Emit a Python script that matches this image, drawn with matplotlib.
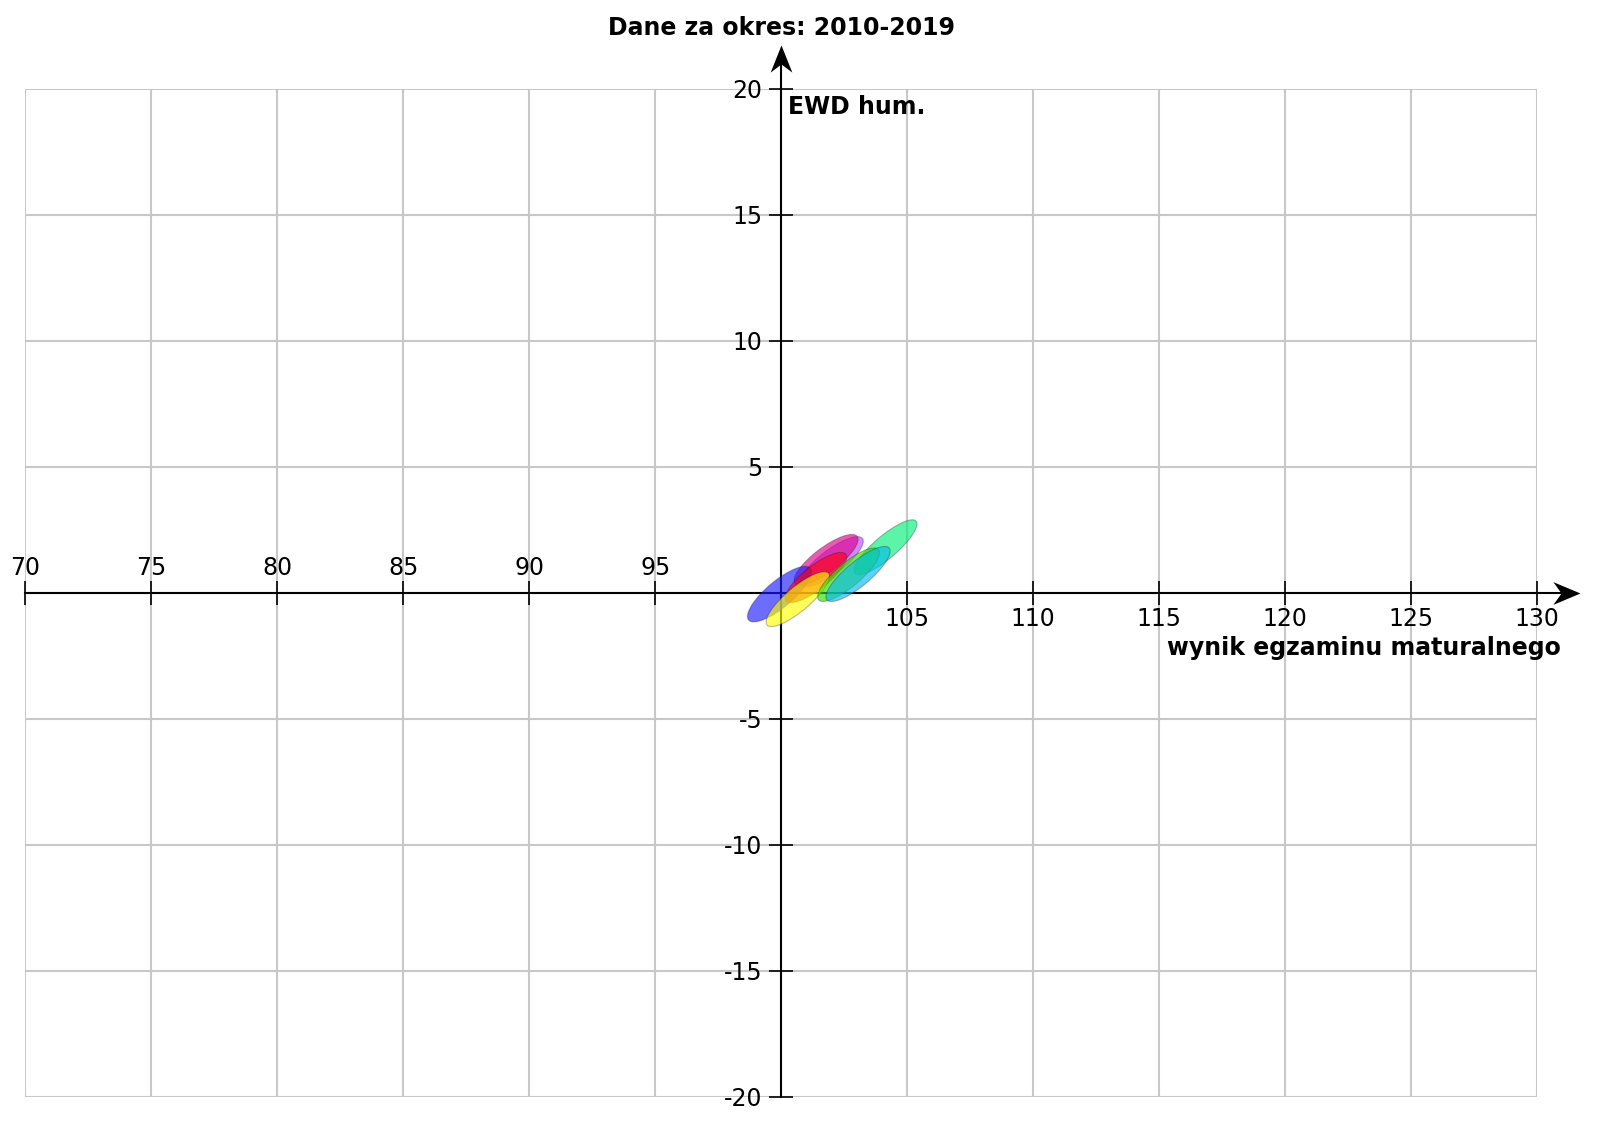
import matplotlib
matplotlib.use('Agg')
import matplotlib.pyplot as plt
from matplotlib.patches import Ellipse
from matplotlib.path import Path
from matplotlib.colors import to_rgba

# okna 3-letnie, środek elipsy (wynik matury, EWD), osie elipsy, kąt
cx = [102.01, 101.78, 99.93, 101.38, 100.66, 104.14, 102.67, 103.05]
cy = [1.24, 1.31, -0.05, 0.61, -0.25, 1.81, 0.72, 0.75]
major = [3.05, 3.1, 3.2, 3.0, 3.19, 3.2, 3.1, 3.22]
minor = [0.95, 0.98, 1.05, 0.95, 0.95, 0.9, 0.95, 0.97]
angle = [37, 37, 40, 38, 40, 40.4, 40, 39.7]
colors = ['#bb44ff', '#dd0088', '#1a1aff', '#ff0010', '#ffff00',
          '#00ee77', '#33dd00', '#00bbee']

xticks = [70, 75, 80, 85, 90, 95, 100, 105, 110, 115, 120, 125, 130]
yticks = [-20, -15, -10, -5, 0, 5, 10, 15, 20]

fig = plt.figure(figsize=(16, 11.23), dpi=100)
ax = fig.add_axes([0.0159, 0.0232, 0.9447, 0.8977])
ax.set_xlim(70, 130)
ax.set_ylim(-20, 20)

ax.set_xticks(xticks)
ax.set_yticks(yticks)
ax.set_yticklabels(['' if v == 0 else str(v) for v in yticks])
ax.grid(True, color='#c8c8c8', lw=1.5)
ax.set_axisbelow(True)

for s in ['top', 'right']:
    ax.spines[s].set_visible(False)
ax.spines['left'].set_position(('data', 100))
ax.spines['bottom'].set_position(('data', 0))
ax.spines['left'].set_linewidth(1.5)
ax.spines['bottom'].set_linewidth(1.5)
ax.tick_params(direction='inout', length=17, width=1.2, labelsize=17, pad=5)
ax.tick_params(axis='x', labelbottom=False)

for v in xticks:
    if v < 100:
        ax.annotate(str(v), (v, 0), xytext=(0, 18), textcoords='offset points',
                    ha='center', va='center', fontsize=17)
    elif v > 100:
        ax.annotate(str(v), (v, 0), xytext=(0, -19), textcoords='offset points',
                    ha='center', va='center', fontsize=17)

# strzałki osi (grot wcięty)
ax.plot([130, 131.2], [0, 0], color='black', lw=1.5, clip_on=False)
ax.plot([100, 100], [20, 21.2], color='black', lw=1.5, clip_on=False)
head = Path([(0, 0), (-1, 0.42), (-0.7, 0), (-1, -0.42), (0, 0)],
            [Path.MOVETO, Path.LINETO, Path.LINETO, Path.LINETO, Path.CLOSEPOLY])
ax.plot(131.7, 0, marker=head, markersize=39, color='black', mew=0,
        clip_on=False)
head_up = Path([(0, 0), (0.4, -1), (0, -0.7), (-0.4, -1), (0, 0)],
               [Path.MOVETO, Path.LINETO, Path.LINETO, Path.LINETO, Path.CLOSEPOLY])
ax.plot(100, 21.75, marker=head_up, markersize=39, color='black', mew=0,
        clip_on=False)

for i in range(len(cx)):
    e = Ellipse((cx[i], cy[i]), major[i], minor[i], angle=angle[i],
                facecolor=to_rgba(colors[i], 0.64),
                edgecolor=(0.1, 0.1, 0.1, 0.3), lw=0.8, zorder=3)
    ax.add_patch(e)

ax.text(0.5, 1.06, 'Dane za okres: 2010-2019', transform=ax.transAxes,
        ha='center', va='center', fontsize=17, fontweight='bold')
ax.annotate('EWD hum.', (100, 20), xytext=(5, -13), textcoords='offset points',
            ha='left', va='center', fontsize=17, fontweight='bold')
ax.annotate('wynik egzaminu maturalnego', (130, 0), xytext=(17, -40),
            textcoords='offset points', ha='right', va='center',
            fontsize=17, fontweight='bold', annotation_clip=False)

fig.savefig('out.png', dpi=100)
